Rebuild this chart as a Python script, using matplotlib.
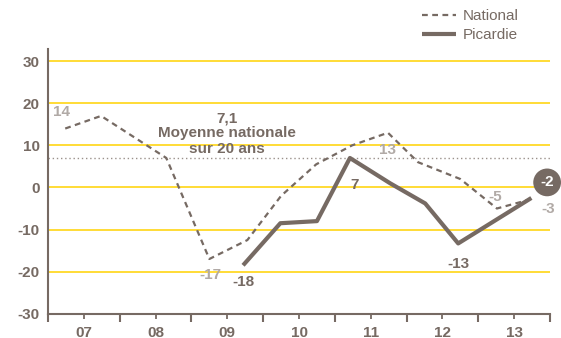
import matplotlib
matplotlib.use("Agg")
import matplotlib.pyplot as plt
from matplotlib.ticker import FixedLocator, NullFormatter

plt.rcParams['font.family'] = ['Liberation Sans', 'DejaVu Sans']
plt.rcParams['axes.unicode_minus'] = False

# data (x = fractional year)
nat_x = [2007.24, 2007.74, 2008.65, 2009.25, 2009.78, 2010.25, 2010.74,
         2011.24, 2011.74, 2012.16, 2012.75, 2013.26, 2013.69]
nat_y = [14, 17, 7, -17, -12.5, -2, 5.5, 10, 13, 6, 2, -5, -3]
pic_x = [2009.72, 2010.24, 2010.75, 2011.21, 2011.77, 2012.26, 2012.72, 2013.74]
pic_y = [-18.5, -8.5, -8, 7, 1, -3.8, -13.3, -2.5]
years = [2007, 2008, 2009, 2010, 2011, 2012, 2013, 2014]
year_labels = ["07", "08", "09", "10", "11", "12", "13"]
yticks = [-30, -20, -10, 0, 10, 20, 30]
avg_nat = 7.1

dark = "#766a63"
light = "#b1aaa6"
yellow = "#ffd200"

fig = plt.figure(figsize=(5.61, 3.38), dpi=100)
ax = fig.add_axes([48/561, 1-313.7/338, (550-48)/561, (313.7-49)/338])

for v in yticks[1:]:
    ax.axhline(v, color=yellow, lw=1.1, zorder=1)
ax.axhline(avg_nat, color="#9a918b", lw=1, ls=(0, (1, 2)), zorder=1)

ax.plot(nat_x, nat_y, color=dark, lw=1.6, ls=(0, (2.6, 2.0)), label="National", zorder=3)
ax.plot(pic_x, pic_y, color=dark, lw=3, solid_capstyle='butt', label="Picardie", zorder=4)

ax.set_xlim(2007, 2014)
ax.set_ylim(-30, 32.9)

for s in ["top", "right"]:
    ax.spines[s].set_visible(False)
for s in ["left", "bottom"]:
    ax.spines[s].set_color(dark)
    ax.spines[s].set_linewidth(1.5)

fs = 11
ax.set_yticks(yticks)
ax.tick_params(axis='y', length=0, pad=6, labelsize=fs, labelcolor=dark)
for t in ax.get_yticklabels():
    t.set_fontweight('bold')

ax.xaxis.set_major_locator(FixedLocator(years))
ax.xaxis.set_major_formatter(NullFormatter())
ax.xaxis.set_minor_locator(FixedLocator([y + 0.5 for y in years[:-1]]))
ax.set_xticklabels(year_labels, minor=True, fontweight='bold')
ax.tick_params(axis='x', which='major', length=6, width=1.5, color=dark)
ax.tick_params(axis='x', which='minor', length=3.5, width=1.3, color=dark,
               pad=5, labelsize=fs, labelcolor=dark)

# labels on national series
ax.text(2007.195, 18.0, "14", color=light, fontsize=fs, fontweight='bold', ha='center', va='center')
ax.text(2009.26, -20.9, "-17", color=light, fontsize=fs, fontweight='bold', ha='center', va='center')
ax.text(2011.73, 8.9, "13", color=light, fontsize=fs, fontweight='bold', ha='center', va='center')
ax.text(2013.23, -2.2, "-5", color=light, fontsize=fs, fontweight='bold', ha='center', va='center')
ax.text(2013.97, -5.2, "-3", color=light, fontsize=fs, fontweight='bold', ha='center', va='center')
# labels on Picardie series
ax.text(2009.73, -22.4, "-18", color=dark, fontsize=fs, fontweight='bold', ha='center', va='center')
ax.text(2011.28, 0.5, "7", color=dark, fontsize=fs, fontweight='bold', ha='center', va='center')
ax.text(2012.72, -18.1, "-13", color=dark, fontsize=fs, fontweight='bold', ha='center', va='center')
ax.text(2013.96, 1.2, "-2", color="white", fontsize=fs, fontweight='bold', ha='center', va='center',
        bbox=dict(boxstyle='circle,pad=0.45', fc=dark, ec='none'), zorder=6, clip_on=False)

# national average annotation
ax.text(2009.50, 16.4, "7,1", color=dark, fontsize=fs, fontweight='bold', ha='center', va='center')
ax.text(2009.50, 12.9, "Moyenne nationale", color=dark, fontsize=fs, fontweight='bold', ha='center', va='center')
ax.text(2009.50, 9.1, "sur 20 ans", color=dark, fontsize=fs, fontweight='bold', ha='center', va='center')

fig.legend(loc='upper left', bbox_to_anchor=(422/561, 1 - 9/338), frameon=False,
           fontsize=fs, labelcolor=dark, handlelength=2.2, handletextpad=0.5,
           labelspacing=0.35, borderpad=0, borderaxespad=0)

fig.savefig("out.png", dpi=100)
